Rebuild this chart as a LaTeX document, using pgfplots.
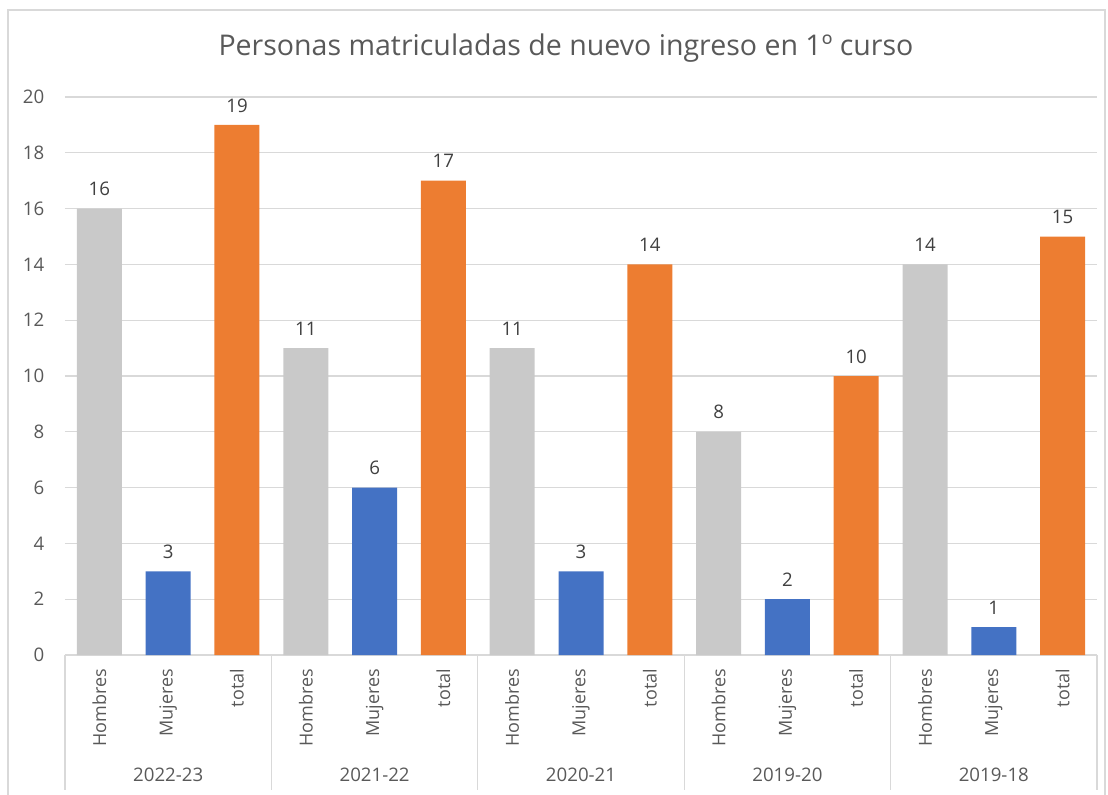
\documentclass[border=0pt]{standalone}
\usepackage{fontspec}
\setmainfont{Open Sans}
\usepackage{pgfplots}
\pgfplotsset{compat=1.18}
\definecolor{hom}{HTML}{C9C9C9}
\definecolor{muj}{HTML}{4472C4}
\definecolor{tot}{HTML}{ED7D31}
\definecolor{txt}{HTML}{595959}
\definecolor{grd}{HTML}{D9D9D9}
\begin{document}
\begin{tikzpicture}
\useasboundingbox (-48.75pt,-104.25pt) rectangle (782.25pt,491.25pt);
\draw[grd, line width=0.8pt] (-42.75pt,-110pt) -- (-42.75pt,483.75pt) -- (780pt,483.75pt) -- (780pt,-110pt);
\begin{axis}[
  at={(0,0)}, anchor=south west,
  scale only axis,
  width=774pt, height=418.5pt,
  xmin=-0.5, xmax=14.5,
  ymin=0, ymax=20,
  ytick={0,2,...,20},
  xtick={0,...,14},
  xticklabels={Hombres,Mujeres,total,Hombres,Mujeres,total,Hombres,Mujeres,total,Hombres,Mujeres,total,Hombres,Mujeres,total},
  xticklabel style={rotate=90, anchor=east, font=\fontsize{13.5}{15}\selectfont, text=txt, xshift=-7pt},
  yticklabel style={font=\fontsize{14}{16}\selectfont, text=txt, xshift=-12pt},
  major tick length=0pt,
  axis x line*=bottom,
  axis y line*=left,
  y axis line style={draw=none},
  x axis line style={grd, line width=0.8pt},
  ymajorgrids,
  grid style={grd, line width=0.8pt},
  ybar, bar width=33.75pt, bar shift=0pt,
  clip=false,
  nodes near coords,
  every node near coord/.append style={font=\fontsize{14}{16}\selectfont, text=black!75, yshift=6pt},
  /pgf/number format/assume math mode=true,
]
\addplot[fill=hom, draw=none] coordinates {(0,16) (3,11) (6,11) (9,8) (12,14)};
\addplot[fill=muj, draw=none] coordinates {(1,3) (4,6) (7,3) (10,2) (13,1)};
\addplot[fill=tot, draw=none] coordinates {(2,19) (5,17) (8,14) (11,10) (14,15)};
\pgfplotsinvokeforeach{-0.5,2.5,5.5,8.5,11.5,14.5}{
  \draw[grd, line width=0.8pt] (axis cs:#1,0) -- ([yshift=-101.25pt]axis cs:#1,0);
}
\node[text=txt, font=\fontsize{14}{16}\selectfont] at (axis cs:1,0) [yshift=-90pt] {2022-23};
\node[text=txt, font=\fontsize{14}{16}\selectfont] at (axis cs:4,0) [yshift=-90pt] {2021-22};
\node[text=txt, font=\fontsize{14}{16}\selectfont] at (axis cs:7,0) [yshift=-90pt] {2020-21};
\node[text=txt, font=\fontsize{14}{16}\selectfont] at (axis cs:10,0) [yshift=-90pt] {2019-20};
\node[text=txt, font=\fontsize{14}{16}\selectfont] at (axis cs:13,0) [yshift=-90pt] {2019-18};
\end{axis}
\node[text=txt, font=\fontsize{21.4}{25}\selectfont] at (375.75pt,455.25pt) {Personas matriculadas de nuevo ingreso en 1º curso};
\end{tikzpicture}
\end{document}
